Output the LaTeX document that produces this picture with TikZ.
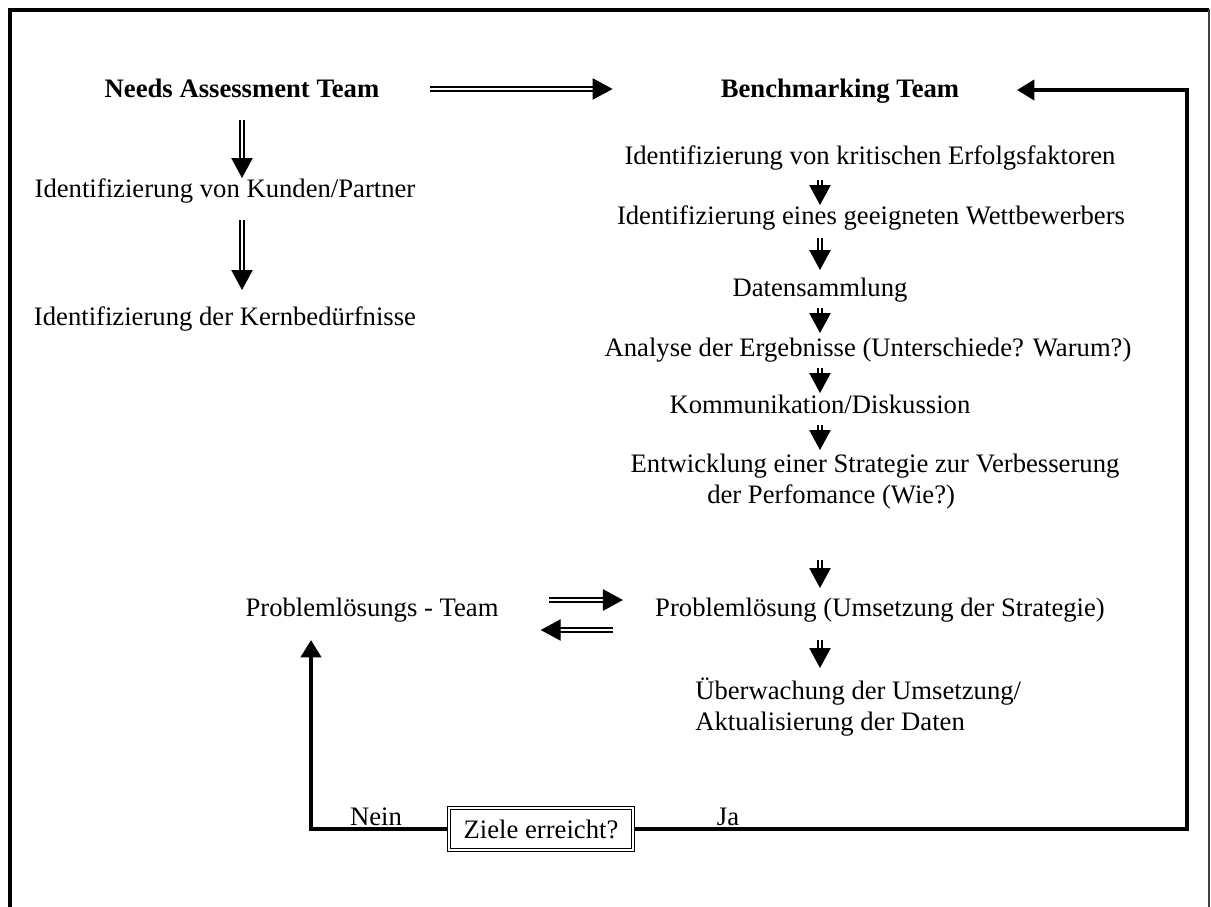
\documentclass[tikz,border=0pt]{standalone}
\usepackage{fontspec}
\setmainfont{Liberation Serif}
\usetikzlibrary{arrows.meta,calc}
\begin{document}
\begin{tikzpicture}[x=0.75pt,y=-0.75pt,
 txt/.style={font=\fontsize{20}{24}\selectfont, inner sep=0pt, anchor=base},
 btxt/.style={txt, font=\fontsize{20}{24}\selectfont\bfseries},
 dar/.style={draw=black, double=white, line width=1pt, double distance=1.8pt, -{Triangle[length=15pt,width=16pt]}},
 thk/.style={line width=3pt, -{Triangle[length=13pt,width=15pt]}},
 frame/.style={line width=3pt},
]
\useasboundingbox (0,0) rectangle (1211,907);
% frame
\draw[frame] (9.5,907) -- (9.5,9.5) -- (1209,9.5);
\draw[line width=1pt, black!75] (1209,9) -- (1209,907);

% left column
\node[btxt] (nat) at (242,97) {Needs Assessment Team};
\node[txt] (kp) at (225,197) {Identifizierung von Kunden/Partner};
\node[txt] (kb) at (225,325) {Identifizierung der Kernbedürfnisse};

% right column
\node[btxt] (bt) at (840,97) {Benchmarking Team};
\node[txt] (r1) at (870,164) {Identifizierung von kritischen Erfolgsfaktoren};
\node[txt] (r2) at (871,224) {Identifizierung eines geeigneten Wettbewerbers};
\node[txt] (r3) at (820,296) {Datensammlung};
\node[txt] (r4) at (868,356) {Analyse der Ergebnisse (Unterschiede? Warum?)};
\node[txt] (r5) at (820,413) {Kommunikation/Diskussion};
\node[txt] (r6) at (875,472) {Entwicklung einer Strategie zur Verbesserung};
\node[txt, anchor=base west] (r6b) at (707,503) {der Perfomance (Wie?)};
\node[txt] (r7) at (880,616) {Problemlösung (Umsetzung der Strategie)};
\node[txt, anchor=base west] (r8) at (695,699) {Überwachung der Umsetzung/};
\node[txt, anchor=base west] (r8b) at (695,730) {Aktualisierung der Daten};

\node[txt] (plt) at (372,616) {Problemlösungs - Team};

% decision
\node[draw, line width=0.8pt, double=white, double distance=2pt, inner sep=0pt,
      minimum width=138pt, minimum height=31.5pt, font=\fontsize{20}{24}\selectfont] (ziel) at (541,829) {Ziele erreicht?};
\node[txt] (nein) at (376,825) {Nein};
\node[txt] (ja) at (728,825) {Ja};

\coordinate (colx) at (820,0);

% arrows
\draw[dar] ($(nat.base east)+(50,-8)$) -- ($(bt.base west)+(-108,-8)$);
\draw[dar] ($(nat.base)+(0,23)$) -- ($(kp.base -| nat.base)+(0,-19)$);
\draw[dar] ($(kp.base -| nat.base)+(0,23)$) -- ($(kb.base -| nat.base)+(0,-35)$);

\draw[dar] ($(r1.base -| colx)+(0,16)$) -- ($(r2.base -| colx)+(0,-19)$);
\draw[dar] ($(r2.base -| colx)+(0,14)$) -- ($(r3.base -| colx)+(0,-26)$);
\draw[dar] ($(r3.base -| colx)+(0,12)$) -- ($(r4.base -| colx)+(0,-23)$);
\draw[dar] ($(r4.base -| colx)+(0,12)$) -- ($(r5.base -| colx)+(0,-20)$);
\draw[dar] ($(r5.base -| colx)+(0,12)$) -- ($(r6.base -| colx)+(0,-22)$);
\draw[dar] ($(r6b.base -| colx)+(0,57)$) -- ($(r7.base -| colx)+(0,-28)$);
\draw[dar] ($(r7.base -| colx)+(0,24)$) -- ($(r8.base -| colx)+(0,-31)$);

\draw[dar] ($(plt.base east)+(50,-16)$) -- ($(r7.base west)+(-32,-16)$);
\draw[dar] ($(r7.base west)+(-42,14)$) -- ($(plt.base east)+(42,14)$);

% loops
\coordinate (nl) at (311,829);
\coordinate (nt) at (311,640);
\draw[thk] (ziel.west) -- (nl) -- (nt);
\coordinate (jr) at (1187,829);
\coordinate (bt1) at (1187,90);
\coordinate (bta) at (1017,90);
\draw[thk] (ziel.east) -- (jr) -- (bt1) -- (bta);
\end{tikzpicture}
\end{document}
